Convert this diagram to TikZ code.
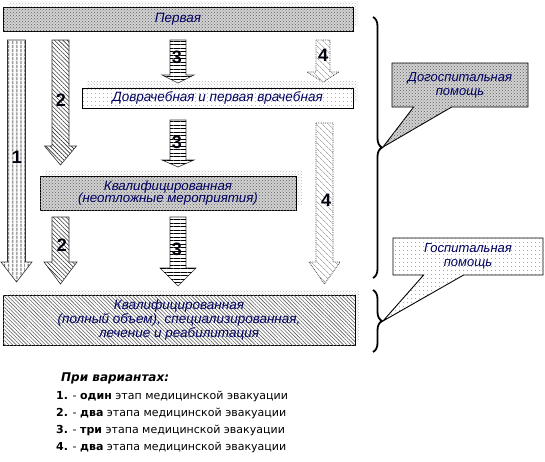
\documentclass[tikz,border=0pt]{standalone}
\usepackage{fontspec}
\setmainfont{Liberation Sans}
\newfontfamily\legendfont{DejaVu Sans}
\usetikzlibrary{patterns,patterns.meta,decorations.pathreplacing,shapes.callouts}
\definecolor{navy}{RGB}{0,0,96}
\newcommand{\blockarr}[7]{%
  \draw[#7] ({#1-#5},#2) -- ({#1+#5},#2) -- ({#1+#5},#3) -- ({#1+#6},#3) -- (#1,#4) -- ({#1-#6},#3) -- ({#1-#5},#3) -- cycle;}
\tikzset{
  boxtext/.style={font=\itshape\fontsize{13.5}{14}\selectfont, text=navy, align=center, inner sep=0pt},
  graydots/.style={draw=black, line width=0.9pt, fill=gray!35, postaction={pattern=crosshatch dots, pattern color=gray!75!black}},
  whitedots/.style={draw=black, line width=0.9pt, fill=white, postaction={pattern={Dots[distance=4pt, radius=0.5pt]}, pattern color=gray!80!black}},
  hatchbox/.style={draw=black, line width=0.9pt, fill=white, postaction={pattern={Lines[angle=-45, distance=2.6pt, line width=0.6pt]}, pattern color=gray!75!black}},
  shadowpat/.style={pattern=crosshatch dots, pattern color=gray!55},
  arrone/.style={draw=gray!40!black, line width=0.6pt, fill=white, postaction={pattern={Lines[angle=90, distance=4pt, line width=0.9pt]}, pattern color=black}},
  arrtwo/.style={draw=gray!40!black, line width=0.6pt, fill=white, postaction={pattern={Lines[angle=-45, distance=3pt, line width=0.6pt]}, pattern color=gray!40!black}},
  arrthree/.style={draw=gray!40!black, line width=0.6pt, fill=white, postaction={pattern={Lines[angle=0, distance=3.5pt, line width=0.7pt]}, pattern color=black}},
  arrfour/.style={draw=gray!50!black, densely dotted, line width=0.8pt, fill=white, postaction={pattern={Lines[angle=-45, distance=4pt, line width=0.8pt]}, pattern color=gray!65}},
  numlbl/.style={font=\bfseries\fontsize{18}{18}\selectfont, text=black!85!navy, inner sep=0pt},
  bracestyle/.style={decorate, decoration={brace, amplitude=9pt}, line width=1.8pt},
  calltext/.style={font=\itshape\fontsize{13}{14}\selectfont, text=navy, align=center, inner sep=0pt},
  legtext/.style={font=\legendfont\fontsize{11}{12}\selectfont, anchor=west, inner sep=0pt}
}
\begin{document}
\begin{tikzpicture}[x=1pt,y=-1pt]
\useasboundingbox (0,0) rectangle (545,461);
\fill[white] (0,0) rectangle (545,461);
% shadows
\fill[shadowpat] (8,1) rectangle (358,25);
\fill[shadowpat] (87,81) rectangle (358,101);
\fill[shadowpat] (45,170) rectangle (302,204);
\fill[shadowpat] (8,290) rectangle (359,340);
% boxes
\node[graydots, boxtext, minimum width=350pt, minimum height=24pt] (first) at (178,19) {Первая};
\node[whitedots, boxtext, minimum width=271pt, minimum height=20pt] (prehosp) at (217.5,98) {Доврачебная и первая врачебная};
\node[graydots, boxtext, font=\itshape\fontsize{13.3}{12.5}\selectfont, minimum width=256pt, minimum height=34pt] (qualurg) at (168,193) {Квалифицированная\\(неотложные мероприятия)};
\node[hatchbox, boxtext, minimum width=352pt, minimum height=50pt] (full) at (179,320) {Квалифицированная\\(полный объем), специализированная,\\лечение и реабилитация};
% arrows
\blockarr{16.5}{40}{262}{282}{9}{15.5}{arrone}
\blockarr{60.5}{40}{146}{165}{8.5}{16}{arrtwo}
\blockarr{60.5}{217}{262}{284}{8.5}{16.5}{arrtwo}
\blockarr{178}{40}{75}{83}{8}{16}{arrthree}
\blockarr{178}{120}{160}{167}{8}{16}{arrthree}
\blockarr{178}{217}{268}{286}{8}{18}{arrthree}
\blockarr{323}{40}{72}{82}{7}{16}{arrfour}
\blockarr{324.5}{123}{262}{284}{8.5}{15.5}{arrfour}
% numbers
\node[numlbl] (n1) at (17,157) {1};
\node[numlbl] (n2a) at (61,100) {2};
\node[numlbl] (n2b) at (62,245) {2};
\node[numlbl] (n3a) at (177,57) {3};
\node[numlbl] (n3b) at (177,142) {3};
\node[numlbl] (n3c) at (177,249) {3};
\node[numlbl] (n4a) at (323,55) {4};
\node[numlbl] (n4b) at (326,200) {4};
% braces
\draw[bracestyle] (373,17) -- (373,278);
\draw[bracestyle] (373,290) -- (373,352);
\coordinate (tipA) at (383,147);
\coordinate (tipB) at (383,321);
% callouts
\node[rectangle callout, callout absolute pointer={(tipA)}, callout pointer width=38pt, graydots, calltext, minimum width=136pt, minimum height=44pt] (cA) at (460,85) {Догоспитальная\\помощь};
\node[rectangle callout, callout absolute pointer={(tipB)}, callout pointer width=40pt, whitedots, calltext, minimum width=150pt, minimum height=37pt] (cB) at (468,256.5) {Госпитальная\\помощь};
% legend
\node[legtext, font=\legendfont\bfseries\itshape\fontsize{12}{13}\selectfont] (lh) at (61,378) {При вариантах:};
\node[legtext] (l1) at (56,396) {\textbf{1.} - \textbf{один} этап медицинской эвакуации};
\node[legtext] (l2) at (56,413) {\textbf{2.} - \textbf{два} этапа медицинской эвакуации};
\node[legtext] (l3) at (56,430) {\textbf{3.} - \textbf{три} этапа медицинской эвакуации};
\node[legtext] (l4) at (56,447) {\textbf{4.} - \textbf{два} этапа медицинской эвакуации};
\end{tikzpicture}
\end{document}
